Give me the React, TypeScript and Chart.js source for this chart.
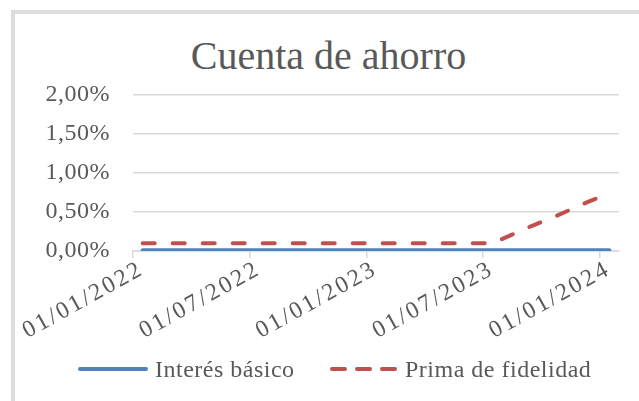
import React, { useEffect, useRef } from "react";
import { Chart, registerables } from "chart.js";

Chart.register(...registerables);

// Monthly observations (Excel date axis, base unit = month)
const months = [
  "01/2022", "02/2022", "03/2022", "04/2022", "05/2022", "06/2022",
  "07/2022", "08/2022", "09/2022", "10/2022", "11/2022", "12/2022",
  "01/2023", "02/2023", "03/2023", "04/2023", "05/2023", "06/2023",
  "07/2023", "08/2023", "09/2023", "10/2023", "11/2023", "12/2023",
  "01/2024",
];
// values in percent
const basicRate = [
  0.01, 0.01, 0.01, 0.01, 0.01, 0.01,
  0.01, 0.01, 0.01, 0.01, 0.01, 0.01,
  0.01, 0.01, 0.01, 0.01, 0.01, 0.01,
  0.01, 0.01, 0.01, 0.01, 0.01, 0.01,
  0.01,
];
const loyaltyBonus = [
  0.1, 0.1, 0.1, 0.1, 0.1, 0.1,
  0.1, 0.1, 0.1, 0.1, 0.1, 0.1,
  0.1, 0.1, 0.1, 0.1, 0.1, 0.1,
  0.1, 0.21, 0.32, 0.42, 0.53, 0.64,
  0.74,
];
const tickMonthIndex = [0, 6, 12, 18, 24];
const tickLabels = ["01/01/2022", "01/07/2022", "01/01/2023", "01/07/2023", "01/01/2024"];
const yTickValues = [0, 0.5, 1, 1.5, 2];
const seriesNames = ["Interés básico", "Prima de fidelidad"];
const titleText = "Cuenta de ahorro";

const FONT = "'Liberation Serif', 'Times New Roman', serif";
const TEXT = "#595959";
const GRID = "#d9d9d9";
const BLUE = "#4F81BD";
const RED = "#C0504D";

const spacingPlugin = {
  id: "letterSpacing",
  beforeLayout(chart: any) {
    chart.ctx.letterSpacing = "0.5px";
  },
  afterLayout(chart: any) {
    const sx = chart.scales.x;
    if (sx && !sx.__wrapped) {
      const orig = sx.drawLabels.bind(sx);
      sx.drawLabels = (ca: any) => {
        const c = chart.ctx;
        const prev = c.letterSpacing;
        c.letterSpacing = "2.5px";
        orig(ca);
        c.letterSpacing = prev;
      };
      sx.__wrapped = true;
    }
  },
  beforeDraw(chart: any) {
    chart.ctx.letterSpacing = "0.5px";
  },
};

export default function App() {
  const ref = useRef<HTMLCanvasElement>(null);

  useEffect(() => {
    if (!ref.current) return;
    const toPoints = (vals: number[]) => vals.map((v, i) => ({ x: i + 0.5, y: v }));
    const chart = new Chart(ref.current, {
      type: "line",
      plugins: [spacingPlugin],
      data: {
        datasets: [
          {
            label: seriesNames[0],
            data: toPoints(basicRate),
            borderColor: BLUE,
            backgroundColor: BLUE,
            borderWidth: 4,
            pointRadius: 0,
            borderCapStyle: "round",
            borderJoinStyle: "round",
            tension: 0,
          },
          {
            label: seriesNames[1],
            data: toPoints(loyaltyBonus),
            borderColor: RED,
            backgroundColor: RED,
            borderWidth: 4,
            borderDash: [12, 18],
            pointRadius: 0,
            borderCapStyle: "round",
            borderJoinStyle: "round",
            tension: 0,
          },
        ],
      },
      options: {
        animation: false,
        responsive: false,
        maintainAspectRatio: false,
        layout: { padding: { left: 0, right: 20, top: 95, bottom: 50 } },
        plugins: {
          title: { display: false },
          legend: { display: false },
          tooltip: { enabled: false },
        },
        scales: {
          x: {
            type: "linear",
            min: 0,
            max: months.length,
            afterBuildTicks: (s: any) => {
              s.ticks = tickMonthIndex.map((v) => ({ value: v }));
            },
            afterFit: (s: any) => {
              s.height = 100;
            },
            ticks: {
              autoSkip: false,
              minRotation: 29,
              maxRotation: 29,
              color: TEXT,
              font: { family: FONT, size: 24 },
              padding: -3,
              labelOffset: 9,
              callback: (v: any) => {
                const i = tickMonthIndex.indexOf(Number(v));
                return i >= 0 ? tickLabels[i] : "";
              },
            },
            grid: {
              drawOnChartArea: false,
              drawTicks: true,
              tickLength: 7,
              color: GRID,
              lineWidth: 1.5,
            },
            border: { display: true, color: GRID, width: 1.5 },
          },
          y: {
            min: 0,
            max: 2,
            afterBuildTicks: (s: any) => {
              s.ticks = yTickValues.map((v) => ({ value: v }));
            },
            afterFit: (s: any) => {
              s.width = 133;
            },
            ticks: {
              autoSkip: false,
              color: TEXT,
              font: { family: FONT, size: 24 },
              padding: 23,
              callback: (v: any) => Number(v).toFixed(2).replace(".", ",") + "%",
            },
            grid: { drawTicks: false, color: GRID, lineWidth: 1.5 },
            border: { display: false },
          },
        },
      },
    } as any);
    return () => chart.destroy();
  }, []);

  const legendText: React.CSSProperties = {
    position: "absolute",
    top: 357,
    fontFamily: FONT,
    fontSize: 24,
    lineHeight: "24px",
    letterSpacing: "0.5px",
    color: TEXT,
    whiteSpace: "nowrap",
  };

  return (
    <div style={{ position: "fixed", left: 0, top: 0, width: 639, height: 401, background: "#fff", overflow: "hidden" }}>
      <div
        style={{
          position: "absolute",
          left: 11,
          top: 10,
          width: 700,
          height: 500,
          borderLeft: "4px solid #dcdcdc",
          borderTop: "4px solid #dcdcdc",
        }}
      />
      <div
        style={{
          position: "absolute",
          left: 0,
          width: 657,
          top: 35.5,
          textAlign: "center",
          fontFamily: FONT,
          fontSize: 40,
          lineHeight: "40px",
          color: TEXT,
          whiteSpace: "nowrap",
        }}
      >
        {titleText}
      </div>
      <canvas ref={ref} width={639} height={401} style={{ position: "absolute", left: 0, top: 0 }} />
      <svg width={639} height={401} style={{ position: "absolute", left: 0, top: 0, pointerEvents: "none" }}>
        <line x1={80} y1={369} x2={146} y2={369} stroke={BLUE} strokeWidth={4} strokeLinecap="round" />
        <line x1={332} y1={369} x2={396} y2={369} stroke={RED} strokeWidth={4} strokeLinecap="round" strokeDasharray="13 12" />
      </svg>
      <div style={{ ...legendText, left: 155 }}>{seriesNames[0]}</div>
      <div style={{ ...legendText, left: 405 }}>{seriesNames[1]}</div>
    </div>
  );
}
